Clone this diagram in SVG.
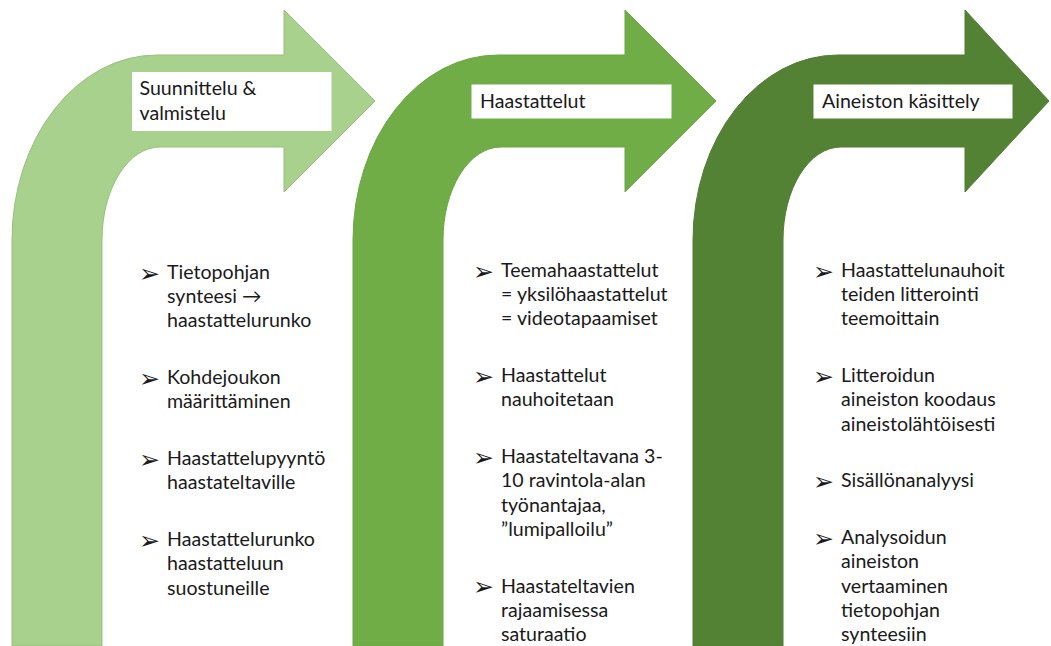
<svg xmlns="http://www.w3.org/2000/svg" width="1051" height="646" viewBox="0 0 1051 646">
<style>
.t{font-family:Lato,"Liberation Sans",sans-serif;font-size:19.6px;fill:#1a1a1a}
.b{font-family:"DejaVu Sans",sans-serif;font-size:25px;fill:#1a1a1a}
.box{fill:#ffffff}
</style>
<rect width="1051" height="646" fill="#ffffff"/>
<g id="connectors"></g>
<g id="step1">
<path d="M12,646 L12,240 A145,185 0 0 1 157,55 L284,55 L284,10 L375,101 L284,192 L284,147 L160,147 A58,93 0 0 0 102,240 L102,646 Z" fill="#A9D18E" stroke="#95c178" stroke-width="1"/>
<rect class="box" x="131.5" y="71.5" width="200.5" height="60" stroke="#a9d18e" stroke-width="1"/>
<text class="t" x="139.5" y="94.5">Suunnittelu &amp;</text>
<text class="t" x="139.5" y="119.5">valmistelu</text>
</g>
<g id="step2">
<path d="M353,646 L353,240 A145,185 0 0 1 498,55 L625,55 L625,10 L716,101 L625,192 L625,147 L501,147 A58,93 0 0 0 443,240 L443,646 Z" fill="#70AD47" stroke="#6aa642" stroke-width="1"/>
<rect class="box" x="471.5" y="84.5" width="200" height="34"/>
<text class="t" x="480" y="107.5">Haastattelut</text>
</g>
<g id="step3">
<path d="M693,646 L693,240 A145,185 0 0 1 838,55 L965,55 L965,10 L1049,101 L965,192 L965,147 L841,147 A58,93 0 0 0 783,240 L783,646 Z" fill="#548235" stroke="#507c33" stroke-width="1"/>
<rect class="box" x="813.5" y="84.5" width="199" height="34"/>
<text class="t" x="822" y="107.5">Aineiston käsittely</text>
</g>
<g id="list1">
<text class="b" x="139" y="281.5">➢</text><text class="t" x="167" y="279">Tietopohjan</text>
<text class="t" x="167" y="303.2">synteesi →</text>
<text class="t" x="167" y="327.4">haastattelurunko</text>
<text class="b" x="139" y="386.7">➢</text><text class="t" x="167" y="384.2">Kohdejoukon</text>
<text class="t" x="167" y="408.4">määrittäminen</text>
<text class="b" x="139" y="467.7">➢</text><text class="t" x="167" y="465.2">Haastattelupyyntö</text>
<text class="t" x="167" y="489.4">haastateltaville</text>
<text class="b" x="139" y="548.7">➢</text><text class="t" x="167" y="546.2">Haastattelurunko</text>
<text class="t" x="167" y="570.4">haastatteluun</text>
<text class="t" x="167" y="594.6">suostuneille</text>
</g>
<g id="list2">
<text class="b" x="473" y="279.5">➢</text><text class="t" x="501" y="277">Teemahaastattelut</text>
<text class="t" x="501" y="301.2">= yksilöhaastattelut</text>
<text class="t" x="501" y="325.4">= videotapaamiset</text>
<text class="b" x="473" y="384.7">➢</text><text class="t" x="501" y="382.2">Haastattelut</text>
<text class="t" x="501" y="406.4">nauhoitetaan</text>
<text class="b" x="473" y="465.7">➢</text><text class="t" x="501" y="463.2">Haastateltavana 3-</text>
<text class="t" x="501" y="487.4">10 ravintola-alan</text>
<text class="t" x="501" y="511.6">työnantajaa,</text>
<text class="t" x="501" y="535.8">”lumipalloilu”</text>
<text class="b" x="473" y="595.1">➢</text><text class="t" x="501" y="592.6">Haastateltavien</text>
<text class="t" x="501" y="616.8">rajaamisessa</text>
<text class="t" x="501" y="641">saturaatio</text>
</g>
<g id="list3">
<text class="b" x="813" y="279.5">➢</text><text class="t" x="841" y="277">Haastattelunauhoit</text>
<text class="t" x="841" y="301.2">teiden litterointi</text>
<text class="t" x="841" y="325.4">teemoittain</text>
<text class="b" x="813" y="384.7">➢</text><text class="t" x="841" y="382.2">Litteroidun</text>
<text class="t" x="841" y="406.4">aineiston koodaus</text>
<text class="t" x="841" y="430.6">aineistolähtöisesti</text>
<text class="b" x="813" y="489.9">➢</text><text class="t" x="841" y="487.4">Sisällönanalyysi</text>
<text class="b" x="813" y="546.7">➢</text><text class="t" x="841" y="544.2">Analysoidun</text>
<text class="t" x="841" y="568.4">aineiston</text>
<text class="t" x="841" y="592.6">vertaaminen</text>
<text class="t" x="841" y="616.8">tietopohjan</text>
<text class="t" x="841" y="641">synteesiin</text>
</g>
</svg>
